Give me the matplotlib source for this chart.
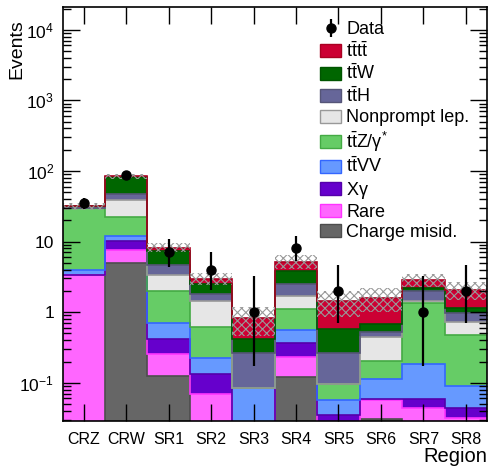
import numpy as np
import matplotlib
matplotlib.use('Agg')
import matplotlib.pyplot as plt
from matplotlib.patches import Patch

plt.rcParams['font.family'] = ['Liberation Sans', 'DejaVu Sans']
plt.rcParams['mathtext.fontset'] = 'custom'
plt.rcParams['mathtext.rm'] = 'Liberation Sans'
plt.rcParams['mathtext.it'] = 'Liberation Sans:italic'
plt.rcParams['mathtext.default'] = 'regular'
plt.rcParams['hatch.linewidth'] = 0.8

regions = ['CRZ', 'CRW', 'SR1', 'SR2', 'SR3', 'SR4', 'SR5', 'SR6', 'SR7', 'SR8']

# background yields, bottom of the stack first
charge_misid = [0.0, 4.9, 0.124, 0.0, 0.0, 0.121, 0.0, 0.031, 0.0, 0.0]
rare = [3.35, 2.67, 0.13, 0.069, 0.0, 0.111, 0.01, 0.0255, 0.0445, 0.032]
xgamma = [0.05, 2.7, 0.157, 0.063, 0.0, 0.128, 0.025, 0.003, 0.0138, 0.0125]
ttvv = [0.54, 1.7, 0.28, 0.091, 0.083, 0.196, 0.0215, 0.052, 0.129, 0.045]
ttz = [25.7, 10.5, 1.3, 0.384, 0.0, 0.57, 0.038, 0.091, 1.14, 0.383]
nonprompt = [0.3, 16.3, 1.39, 0.84, 0.0, 0.56, 0.0, 0.245, 0.12, 0.242]
tth = [0.4, 8.4, 1.26, 0.39, 0.18, 0.86, 0.17, 0.07, 0.55, 0.244]
ttw = [1.2, 36.0, 2.69, 0.66, 0.16, 1.27, 0.32, 0.16, 0.21, 0.19]
tttt = [0.1, 1.0, 0.9, 0.5, 0.40, 1.4, 0.85, 0.92, 0.65, 0.94]
total_unc = [4.0, 6.0, 1.2, 0.6, 0.37, 1.15, 0.57, 0.58, 0.57, 0.6]

data = [35, 87, 7, 4, 1, 8, 2, 0, 1, 2]
data_err_lo = [5.9, 9.3, 2.58, 1.91, 0.83, 2.77, 1.29, 0.0, 0.83, 1.29]
data_err_hi = [6.97, 10.4, 3.77, 3.16, 2.30, 3.94, 2.64, 1.84, 2.30, 2.64]

components = [
    (charge_misid, 'Charge misid.', '#666666', '#4d4d4d'),
    (rare, 'Rare', '#ff66ff', '#ff33ff'),
    (xgamma, r'X$\gamma$', '#6600cc', '#5500aa'),
    (ttvv, r'$t\bar{t}VV$', '#6699ff', '#3366ff'),
    (ttz, r'$t\bar{t}Z/\gamma^{*}$', '#66cc66', '#44aa44'),
    (nonprompt, 'Nonprompt lep.', '#e6e6e6', '#999999'),
    (tth, r'$t\bar{t}H$', '#666699', '#555577'),
    (ttw, r'$t\bar{t}W$', '#006600', '#005500'),
    (tttt, r'$t\bar{t}t\bar{t}$', '#cc0033', '#aa0022'),
]

fig = plt.figure(figsize=(4.91, 4.67), dpi=100)
ax = fig.add_axes([0.1273, 0.0991, 0.8646, 0.8859])

edges = np.arange(len(regions) + 1) - 0.5
x = np.arange(len(regions))
floor = 1e-3

bottom = np.zeros(len(regions))
tops = []
for vals, label, fc, ec in components:
    top = bottom + np.array(vals)
    ax.stairs(np.maximum(top, floor), edges, baseline=np.maximum(bottom, floor),
              fill=True, facecolor=fc, edgecolor='none', lw=0)
    tops.append(top)
    bottom = top
for top, (vals, label, fc, ec) in zip(tops, components):
    if np.any(np.array(vals) > 0):
        ax.stairs(np.maximum(top, floor), edges, baseline=None, color=ec, lw=1.2)

total = bottom
unc = np.array(total_unc)
ax.stairs(total + unc, edges, baseline=np.maximum(total - unc, floor), fill=True,
          facecolor='none', edgecolor='#999999', hatch='xxxx', lw=0)

d = np.array(data, dtype=float)
mask = d > 0
eb = ax.errorbar(x[mask], d[mask],
                 yerr=[np.array(data_err_lo)[mask], np.array(data_err_hi)[mask]],
                 fmt='o', color='black', ms=6.5, elinewidth=1.6, capsize=0, zorder=5)

ax.set_yscale('log')
ax.set_ylim(0.029, 2.1e4)
ax.set_xlim(-0.5, len(regions) - 0.5)
ax.set_xticks(x)
ax.set_xticklabels(regions, fontsize=11.5)
ax.set_yticks([0.1, 1, 10, 100, 1000, 10000])
ax.set_yticklabels(['$10^{-1}$', '1', '10', '$10^{2}$', '$10^{3}$', '$10^{4}$'], fontsize=12.5)
ax.tick_params(axis='both', which='major', direction='in', length=12, width=1,
               top=True, right=True, pad=6)
ax.tick_params(axis='x', which='major', pad=8)
ax.tick_params(axis='y', which='minor', direction='in', length=6, width=1, right=True)
ax.tick_params(axis='x', which='minor', bottom=False, top=False)
for sp in ax.spines.values():
    sp.set_linewidth(1.2)
    sp.set_zorder(10)
ax.set_axisbelow(False)

ax.set_ylabel('Events', fontsize=14, loc='top')
ax.yaxis.set_label_coords(-0.088, 0.97)
ax.set_xlabel('Region', fontsize=14.5, loc='right')
ax.xaxis.set_label_coords(1.0, -0.064)

handles = [eb] + [Patch(facecolor=fc, edgecolor=ec, lw=1) for vals, label, fc, ec in components[::-1]]
labels = ['Data'] + [label for vals, label, fc, ec in components[::-1]]
ax.legend(handles, labels, loc='upper left', bbox_to_anchor=(0.652, 0.955),
          bbox_transform=fig.transFigure, frameon=False, fontsize=13,
          handlelength=1.15, handleheight=0.72, handletextpad=0.3, labelspacing=0.18,
          borderpad=0.0, borderaxespad=0.0)

fig.savefig('out.png', dpi=100)
